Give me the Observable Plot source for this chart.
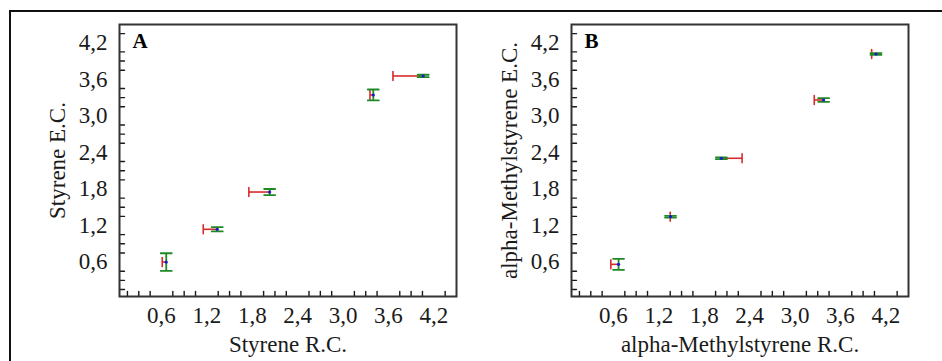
<!DOCTYPE html>
<html>
<head>
<meta charset="utf-8">
<script src="https://cdn.jsdelivr.net/npm/d3@7"></script>
<script src="https://cdn.jsdelivr.net/npm/@observablehq/plot@0.6"></script>
<style>
  html, body { margin: 0; padding: 0; background: #fff; overflow: hidden; width: 942px; height: 361px; }
  #wrap { position: relative; width: 942px; height: 361px; }
  #outer { position: absolute; left: 9px; top: 10px; width: 1000px; height: 500px; border: 2px solid #111; box-sizing: border-box; }
  #a, #b { position: absolute; top: 0; }
  #a { left: 0; }
  #b { left: 471px; }
  svg text { font-family: "Liberation Serif", "Times New Roman", serif; }
</style>
</head>
<body>
<div id="wrap">
  <div id="outer"></div>
  <div id="a"></div>
  <div id="b"></div>
</div>
<script>
// ---- data ----
// Panel A: Styrene
const styreneRC      = [0.663, 1.337, 2.03, 3.40, 4.06];   // x (R.C.)
const styreneEC      = [0.60, 1.138, 1.75, 3.343, 3.655];  // y (E.C.)
const styreneRCEnd   = [0.61, 1.152, 1.755, 3.356, 3.66];  // red bar end (x)
const styreneECErr   = [0.145, 0.035, 0.05, 0.09, 0.02];   // green ± (y)
// Panel B: alpha-Methylstyrene
const amsRC          = [0.667, 1.354, 2.026, 3.378, 4.07];
const amsEC          = [0.563, 1.345, 2.304, 3.261, 4.016];
const amsRCEnd       = [0.565, 1.35, 2.30, 3.254, 4.013];
const amsECErr       = [0.09, 0.015, 0.015, 0.03, 0.015];
// ticks
const majorTicks = [0.6, 1.2, 1.8, 2.4, 3.0, 3.6, 4.2];
const minorTicks = [0.15, 0.3, 0.45, 0.75, 0.9, 1.05, 1.35, 1.5, 1.65, 1.95, 2.1, 2.25,
                    2.55, 2.7, 2.85, 3.15, 3.3, 3.45, 3.75, 3.9, 4.05, 4.35];

const xDomain = [0.045, 4.5];
const yDomain = [0.035, 4.5];
const RED = "#d92b2b", GREEN = "#1f8a24", BLUE = "#1a1ad0", INK = "#1a1a1a";
const FONT = "Liberation Serif, Times New Roman, serif";

const lineShape = { draw(context, l) { context.moveTo(0, 0); context.lineTo(0, -l); } };
const fmt = d => d.toFixed(1).replace(".", ",");

function panel({rc, ec, rcEnd, ecErr, xLabel, yLabel, tag, marginLeft, marginRight}) {
  const rows = rc.map((x, i) => ({x, y: ec[i], xe: rcEnd[i], ylo: ec[i] - ecErr[i], yhi: ec[i] + ecErr[i]}));
  return Plot.plot({
    width: 471, height: 361,
    marginLeft, marginRight, marginTop: 24, marginBottom: 65,
    style: { fontFamily: FONT, fontSize: "23px", color: INK, background: "transparent", overflow: "visible" },
    x: { domain: xDomain },
    y: { domain: yDomain },
    marks: [
      // minor inward ticks
      Plot.vector(minorTicks, { x: d => d, y: () => yDomain[0], length: 5, rotate: 0, anchor: "start", shape: lineShape, stroke: INK, strokeWidth: 1.4 }),
      Plot.vector(minorTicks, { x: () => xDomain[0], y: d => d, length: 5, rotate: 90, anchor: "start", shape: lineShape, stroke: INK, strokeWidth: 1.4 }),
      // tick labels and axis titles
      Plot.axisX(majorTicks, { tickSize: 0, tickPadding: 10, tickFormat: fmt, fontSize: 23, fill: INK, label: xLabel, labelAnchor: "center", labelArrow: "none", labelOffset: 55 }),
      Plot.axisY(majorTicks, { tickSize: 0, tickPadding: 12, tickFormat: fmt, fontSize: 23, fill: INK, label: yLabel, labelAnchor: "center", labelArrow: "none", labelOffset: 71 }),
      // red horizontal (R.C.) bars
      Plot.link(rows, { x1: "xe", x2: "x", y1: "y", y2: "y", stroke: RED, strokeWidth: 1.6 }),
      Plot.vector(rows, { x: "xe", y: "y", length: 9, rotate: 0, anchor: "middle", shape: lineShape, stroke: RED, strokeWidth: 1.6 }),
      // green vertical (E.C.) bars
      Plot.link(rows, { x1: "x", x2: "x", y1: "ylo", y2: "yhi", stroke: GREEN, strokeWidth: 1.8 }),
      Plot.vector(rows, { x: "x", y: "ylo", length: 11, rotate: 90, anchor: "middle", shape: lineShape, stroke: GREEN, strokeWidth: 1.8 }),
      Plot.vector(rows, { x: "x", y: "yhi", length: 11, rotate: 90, anchor: "middle", shape: lineShape, stroke: GREEN, strokeWidth: 1.8 }),
      // centre points
      Plot.dot(rows, { x: "x", y: "y", r: 1.6, fill: BLUE }),
      // panel tag
      Plot.text([tag], { frameAnchor: "top-left", dx: 13, dy: 9, lineAnchor: "top", textAnchor: "start", fontWeight: "bold", fontSize: 21, fill: "#000" }),
      Plot.frame({ stroke: "#333", strokeWidth: 2 })
    ]
  });
}

document.getElementById("a").append(panel({
  rc: styreneRC, ec: styreneEC, rcEnd: styreneRCEnd, ecErr: styreneECErr,
  xLabel: "Styrene R.C.", yLabel: "Styrene E.C.", tag: "A", marginLeft: 119, marginRight: 15
}));
document.getElementById("b").append(panel({
  rc: amsRC, ec: amsEC, rcEnd: amsRCEnd, ecErr: amsECErr,
  xLabel: "alpha-Methylstyrene R.C.", yLabel: "alpha-Methylstyrene E.C.", tag: "B", marginLeft: 100, marginRight: 34
}));
</script>
</body>
</html>
